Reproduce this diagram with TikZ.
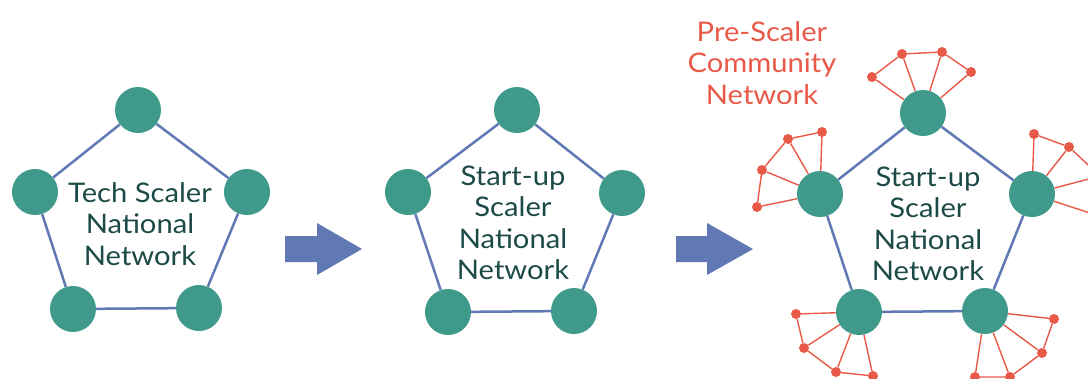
\documentclass[tikz,border=0pt]{standalone}
\usepackage{fontspec}
\setmainfont{Lato}
\newfontfamily\lblfont[FakeStretch=1.08]{Lato}
\definecolor{teal1}{RGB}{63,154,139}
\definecolor{edgeblue}{RGB}{96,120,180}
\definecolor{txtdark}{RGB}{28,74,70}
\definecolor{redc}{RGB}{233,89,72}
\begin{document}
\begin{tikzpicture}[x=1pt,y=-1pt,
  hub/.style={circle,fill=teal1,minimum size=46pt,inner sep=0pt},
  dot/.style={circle,fill=redc,minimum size=10pt,inner sep=0pt},
  link/.style={draw=edgeblue,line width=2.5pt},
  rlink/.style={draw=redc,line width=1.4pt},
  label/.style={align=center,font=\lblfont\fontsize{27}{31.5}\selectfont,text=txtdark,inner sep=0pt},
  rlabel/.style={align=center,font=\lblfont\fontsize{27}{31.5}\selectfont,text=redc,inner sep=0pt},
  bigarrow/.style={fill=edgeblue}]
\useasboundingbox (0,0) rectangle (1088,378);

% ---------- Left pentagon ----------
\node[hub] (a1) at (138,110) {};
\node[hub] (a2) at (247,192) {};
\node[hub] (a3) at (199,308) {};
\node[hub] (a4) at (73,309) {};
\node[hub] (a5) at (35,192) {};
\draw[link] (a1)--(a2) (a2)--(a3) (a3)--(a4) (a4)--(a5) (a5)--(a1);
\node[label] (ta) at (140,224) {Tech Scaler\\National\\Network};

% ---------- Arrow 1 ----------
\fill[bigarrow] (285,236) -- (317,236) -- (317,223) -- (362,249) -- (317,275) -- (317,262) -- (285,262) -- cycle;

% ---------- Middle pentagon ----------
\node[hub] (b1) at (517,110) {};
\node[hub] (b2) at (622,193) {};
\node[hub] (b3) at (574,311) {};
\node[hub] (b4) at (448,312) {};
\node[hub] (b5) at (408,192) {};
\draw[link] (b1)--(b2) (b2)--(b3) (b3)--(b4) (b4)--(b5) (b5)--(b1);
\node[label] (tb) at (513,223) {Start-up\\Scaler\\National\\Network};

% ---------- Arrow 2 ----------
\fill[bigarrow] (676,236) -- (707,236) -- (707,223) -- (753,249) -- (707,275) -- (707,262) -- (676,262) -- cycle;

% ---------- Right pentagon ----------
\node[hub] (c1) at (923,113) {};
\node[hub] (c2) at (1032,194) {};
\node[hub] (c3) at (985,311) {};
\node[hub] (c4) at (859,312) {};
\node[hub] (c5) at (820,194) {};
\draw[link] (c1)--(c2) (c2)--(c3) (c3)--(c4) (c4)--(c5) (c5)--(c1);
\node[label] (tc) at (928,224) {Start-up\\Scaler\\National\\Network};

\node[rlabel] (tr) at (762,63) {Pre-Scaler\\Community\\Network};

% fan top
\node[dot] (p1) at (872,77) {};
\node[dot] (p2) at (902,54) {};
\node[dot] (p3) at (942,52) {};
\node[dot] (p4) at (971,72) {};
% fan left
\node[dot] (q1) at (757,207) {};
\node[dot] (q2) at (762,170) {};
\node[dot] (q3) at (788,139) {};
\node[dot] (q4) at (822,132) {};
% fan right
\node[dot] (r1) at (1034,134) {};
\node[dot] (r2) at (1069,147) {};
\node[dot] (r3) at (1100,176) {};
\node[dot] (r4) at (1102,217) {};
% fan bottom-left
\node[dot] (s1) at (796,314) {};
\node[dot] (s2) at (804,348) {};
\node[dot] (s3) at (836,372) {};
\node[dot] (s4) at (873,376) {};
% fan bottom-right
\node[dot] (u1) at (1054,319) {};
\node[dot] (u2) at (1042,353) {};
\node[dot] (u3) at (1010,377) {};
\node[dot] (u4) at (975,377) {};

\foreach \h/\d in {c1/p,c5/q,c2/r,c4/s,c3/u}{
  \draw[rlink] (\h)--(\d1) (\h)--(\d2) (\h)--(\d3) (\h)--(\d4)
               (\d1)--(\d2) (\d2)--(\d3) (\d3)--(\d4);
}
\end{tikzpicture}
\end{document}
